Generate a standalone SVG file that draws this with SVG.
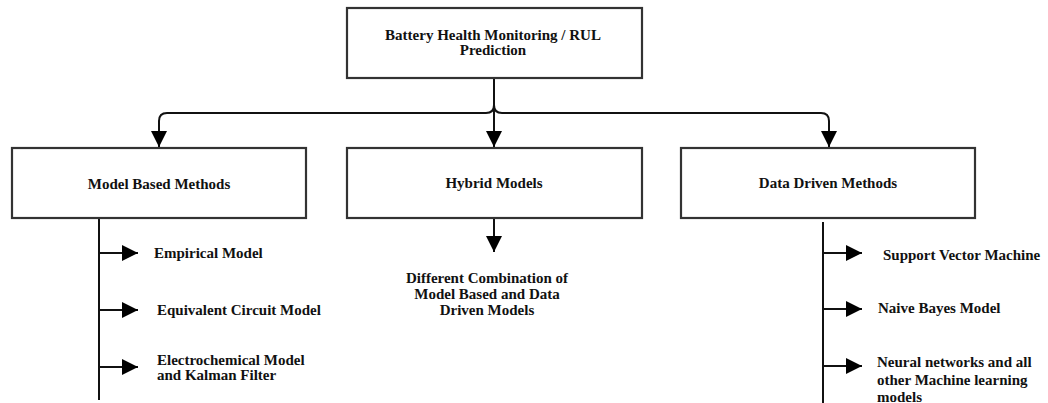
<svg xmlns="http://www.w3.org/2000/svg" width="1048" height="403" viewBox="0 0 1048 403">
<defs>
<marker id="arr" viewBox="0 0 10 10" refX="10" refY="5" markerWidth="16" markerHeight="16" markerUnits="userSpaceOnUse" orient="auto">
<path d="M0,0 L10,5 L0,10 Z" fill="#000"/>
</marker>
<style>
.box{fill:#fff;stroke:#333;stroke-width:2.2}
.t{font-weight:bold;font-size:15px;fill:#111}
.c{text-anchor:middle}
.ln{fill:none;stroke:#111;stroke-width:2}
.ar{fill:none;stroke:#111;stroke-width:2;marker-end:url(#arr)}
</style>
</defs>
<rect width="1048" height="403" fill="#fff"/>
<g id="connectors">
<path class="ar" d="M494,78 V105 Q494,113 486,113 H167 Q159,113 159,121 V147"/>
<path class="ar" d="M494,78 V105 Q494,113 502,113 H821 Q829,113 829,121 V147"/>
<path class="ar" d="M494,78 V147"/>
<path class="ar" d="M494,219 V252"/>
<path class="ln" d="M99,219 V400"/>
<path class="ar" d="M99,253 H138"/>
<path class="ar" d="M99,310 H138"/>
<path class="ar" d="M99,367 H138"/>
<path class="ln" d="M823,222 V403"/>
<path class="ar" d="M823,253 H862"/>
<path class="ar" d="M823,309 H862"/>
<path class="ar" d="M823,366 H862"/>
</g>
<g font-family="Liberation Serif, Times New Roman, serif">
<g id="root">
<rect class="box" x="347" y="8" width="295" height="70"/>
<text class="t c" x="493" y="40" font-size="15.5">Battery Health Monitoring / RUL</text>
<text class="t c" x="493" y="55" font-size="15.5">Prediction</text>
</g>
<g id="model-based">
<rect class="box" x="12" y="148" width="294" height="70"/>
<text class="t c" x="159" y="189">Model Based Methods</text>
</g>
<g id="hybrid">
<rect class="box" x="347" y="148" width="295" height="70"/>
<text class="t c" x="494" y="188">Hybrid Models</text>
</g>
<g id="data-driven">
<rect class="box" x="681" y="148" width="294" height="70"/>
<text class="t c" x="828" y="188">Data Driven Methods</text>
</g>
<g id="hybrid-desc">
<text class="t c" x="487" y="283">Different Combination of</text>
<text class="t c" x="487" y="299">Model Based and Data</text>
<text class="t c" x="487" y="315">Driven Models</text>
</g>
<g id="empirical">
<text class="t" x="154" y="258">Empirical Model</text>
</g>
<g id="equivalent">
<text class="t" x="157" y="315">Equivalent Circuit Model</text>
</g>
<g id="electrochemical">
<text class="t" x="157" y="365">Electrochemical Model</text>
<text class="t" x="157" y="380">and Kalman Filter</text>
</g>
<g id="svm">
<text class="t" x="883" y="260">Support Vector Machine</text>
</g>
<g id="naive-bayes">
<text class="t" x="878" y="313">Naive Bayes Model</text>
</g>
<g id="neural">
<text class="t" x="877" y="367">Neural networks and all</text>
<text class="t" x="877" y="385">other Machine learning</text>
<text class="t" x="877" y="402">models</text>
</g>
</g>
</svg>
